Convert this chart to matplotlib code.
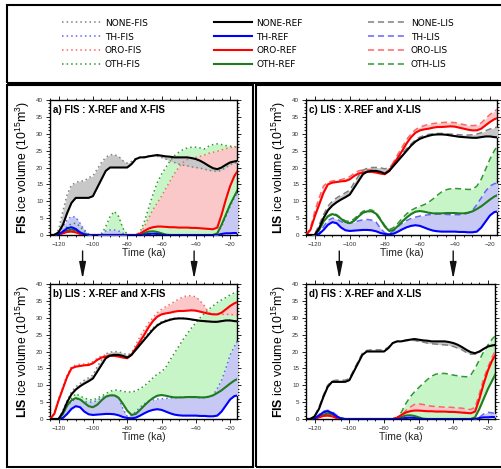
import numpy as np
import matplotlib
matplotlib.use('Agg')
import matplotlib.pyplot as plt
from matplotlib.patches import Rectangle
from matplotlib.ticker import MultipleLocator

plt.rcParams['font.family'] = 'Liberation Sans'
plt.rcParams['mathtext.fontset'] = 'custom'
plt.rcParams['mathtext.rm'] = 'Liberation Sans'
plt.rcParams['mathtext.bf'] = 'Liberation Sans:bold'

# time axis (ka), every 2.5 ka from -125 to -15
time = np.arange(-125, -14.9, 2.5)

# ---- REF runs : FIS volume (panels a, d)
none_ref_fis = [0, 0, 0.8, 3, 6.5, 9.5, 11, 11, 11, 11,
                11.5, 14, 16.5, 19, 20, 20, 20, 20, 20, 21,
                22.5, 23, 23, 23.3, 23.5, 23.7, 23.5, 23.3, 23.2, 23,
                23, 23, 23, 22.8, 22.5, 22, 21.3, 20.5, 19.8, 19.5,
                20, 20.8, 21.5, 21.8, 22]
th_ref_fis = [0, 0, 0.2, 1, 2, 2.3, 1.8, 0.8, 0.2, 0,
              0, 0, 0, 0, 0, 0, 0, 0, 0, 0,
              0, 0, 0.1, 0.3, 0.4, 0.3, 0.1, 0, 0, 0,
              0, 0, 0, 0, 0, 0, 0, 0, 0, 0,
              0.3, 0.5, 0.5, 0.6, 0.5]
oro_ref_fis = [0, 0, 0.1, 0.5, 0.9, 1, 0.8, 0.3, 0, 0,
               0, 0, 0, 0, 0, 0, 0, 0, 0, 0,
               0, 0.4, 1.2, 1.9, 2.3, 2.5, 2.5, 2.4, 2.3, 2.3,
               2.2, 2.2, 2.2, 2.1, 2.1, 2, 1.9, 1.8, 1.7, 2.2,
               6, 10.5, 14.5, 17.5, 19.5]
oth_ref_fis = [0, 0, 0.1, 0.6, 1.3, 1.6, 1.4, 0.7, 0.2, 0,
               0, 0, 0, 0, 0, 0, 0, 0, 0, 0,
               0, 0.2, 0.6, 1, 1.1, 0.9, 0.5, 0.1, 0, 0,
               0, 0, 0, 0, 0, 0, 0, 0, 0, 0.5,
               3, 6, 9, 11.5, 14]

# ---- REF runs : LIS volume (panels b, c)
none_ref_lis = [0, 0, 0, 2, 5, 7.3, 8.7, 9.7, 10.5, 11.2,
                12, 14, 16, 18, 18.8, 19, 19, 18.7, 18.2, 19,
                20.5, 22, 23.5, 25, 26.5, 27.7, 28.5, 29, 29.4, 29.7,
                29.8, 29.8, 29.7, 29.5, 29.3, 29.1, 29, 28.9, 28.8, 28.8,
                29, 29.2, 29.2, 29, 28.9]
th_ref_lis = [0, 0, 0, 0.3, 1.5, 3, 3.8, 3.5, 2.2, 1.4,
              1.2, 1.3, 1.4, 1.5, 1.5, 1.4, 1.1, 0.6, 0.3, 0.2,
              0.4, 1, 1.7, 2.3, 2.7, 2.9, 2.7, 2.2, 1.7, 1.3,
              1.1, 1, 1, 1, 1, 0.9, 0.9, 0.8, 0.8, 1,
              2.2, 4, 5.8, 6.8, 7]
oro_ref_lis = [0, 1.5, 5.5, 9, 12.5, 15, 15.5, 15.7, 15.9, 16,
               16.5, 17.5, 18.2, 18.5, 18.7, 18.7, 18.5, 18.2, 18, 19,
               21, 23, 25, 27.2, 29, 30.3, 31, 31.3, 31.5, 31.8,
               32, 32, 32.1, 32.2, 32.1, 31.8, 31.5, 31.2, 31, 31,
               31.5, 32.5, 33.5, 34.3, 34.8]
oth_ref_lis = [0, 0, 0, 1.5, 4, 5.5, 6.2, 5.8, 4.8, 3.8,
               3.5, 4.2, 5.5, 6.6, 7, 7, 6.3, 4.5, 2.5, 1.2,
               1.5, 2.7, 4, 5.2, 6.2, 6.9, 7.1, 6.9, 6.6, 6.4,
               6.4, 6.4, 6.5, 6.5, 6.5, 6.4, 6.4, 6.6, 7, 7.7,
               8.5, 9.5, 10.5, 11.4, 12]

# ---- X-FIS runs : FIS volume (panel a)
none_fis_fis = [0, 0, 1.5, 7, 12, 14.8, 15.5, 16, 16, 17,
                17.5, 19.5, 21.5, 23, 23.8, 23.8, 23.3, 22, 21.3, 21.8,
                22.7, 23, 23.2, 23.4, 23.5, 23.3, 23, 22.5, 22, 21.5,
                21, 20.7, 20.5, 20.2, 20, 19.8, 19.5, 19.2, 19, 18.8,
                19.2, 20, 20.8, 21.3, 21.5]
th_fis_fis = [0, 0, 0.5, 2.5, 4.5, 5.5, 5.3, 3.5, 1.5, 0.3,
              0, 0, 0.5, 1.2, 1.5, 1.5, 1.2, 0.5, 0, 0,
              0, 0, 0.2, 0.4, 0.5, 0.3, 0.1, 0, 0, 0,
              0, 0, 0, 0, 0, 0, 0, 0, 0, 0.5,
              2.5, 5.5, 8.5, 11, 13.5]
oro_fis_fis = [0, 0, 0.2, 0.6, 1, 1.1, 0.9, 0.4, 0.1, 0,
               0, 0, 0, 0, 0, 0, 0, 0, 0, 0,
               0, 0.5, 2.5, 5, 7.5, 9.5, 11.5, 13.8, 16, 18.2,
               20, 21.5, 22.3, 22.8, 23, 23.3, 23.7, 24.2, 24.5, 24.8,
               25.2, 25.6, 25.9, 26.1, 26.2]
oth_fis_fis = [0, 0, 0.3, 1.2, 2.5, 3.3, 3.5, 2.5, 1, 0.2,
               0, 0, 0.2, 2.5, 5.5, 7, 5.5, 2, 0.2, 0,
               0, 0.8, 4, 8, 12, 15.5, 18, 20, 22, 23.5,
               24.5, 25.3, 25.8, 26, 26, 25.8, 25.5, 26.3, 26.8, 27,
               26.8, 26.5, 26.3, 26.2, 26]

# ---- X-FIS runs : LIS volume (panel b)
none_fis_lis = [0, 0, 0, 2.5, 5.5, 8, 9.5, 10.5, 11.5, 12.2,
                13, 15.5, 17.5, 19.3, 19.8, 20, 19.9, 19.5, 19, 19.5,
                20.8, 22.3, 24, 25.5, 27, 28, 28.8, 29.3, 29.6, 29.8,
                29.9, 29.8, 29.6, 29.4, 29.2, 29, 28.9, 28.8, 28.8, 28.8,
                29, 29.1, 29.2, 29.1, 29]
th_fis_lis = [0, 0, 0, 1.5, 4, 5.2, 6, 5.8, 5.2, 5,
              5, 5.5, 6.3, 6.8, 7, 7, 6.5, 3, 0.8, 1,
              2.2, 3.5, 4.5, 5.2, 5.6, 5.9, 6, 6.1, 6.2, 6.3,
              6.4, 6.5, 6.5, 6.4, 6.4, 6.3, 6.3, 6.5, 7, 9,
              11.5, 15, 19, 21.5, 24]
oro_fis_lis = [0, 1.8, 6, 9.5, 13, 15.5, 16, 16.2, 16.3, 16.5,
               17, 18, 18.7, 19, 19.2, 19.2, 19, 18.6, 18.3, 19.5,
               22, 24.5, 26.5, 28.5, 30, 31.5, 32.5, 33.3, 34, 34.8,
               35.5, 36.2, 36.5, 36.5, 36.2, 35, 33.5, 31.5, 31.2, 31,
               31, 31, 31, 30.8, 30.5]
oth_fis_lis = [0, 0, 0, 1.5, 4, 6, 7.5, 6.8, 6.2, 5.8,
               5.6, 6.2, 6.8, 7.5, 8.2, 8.6, 8.5, 8.2, 8, 8,
               8.3, 9, 9.8, 11, 12.2, 13.3, 14, 15.3, 17.5, 19.5,
               21.5, 23.5, 25.3, 27, 28.5, 30, 31.3, 32.5, 33.5, 34.5,
               35.3, 36, 36.8, 37.4, 38]

# ---- X-LIS runs : LIS volume (panel c)
none_lis_lis = [0, 0, 0.3, 3, 6, 8.5, 10, 11, 11.8, 12.5,
                13.3, 15.5, 17.5, 19.2, 19.8, 20, 20, 19.9, 19.6, 20,
                21.2, 22.7, 24.2, 25.6, 27, 28.2, 29, 29.5, 29.8, 30,
                30.1, 30.1, 30, 29.9, 29.8, 29.7, 29.6, 29.6, 29.7, 29.9,
                30.3, 30.9, 31.4, 31.8, 32]
th_lis_lis = [0, 0, 0, 0.5, 2.5, 4.3, 5, 4.7, 4, 3.5,
              3.5, 3.8, 4.2, 4.5, 4.6, 4.4, 3.8, 2, 0.6, 0.4,
              1.2, 2.5, 3.5, 4.3, 4.9, 5.3, 5.6, 5.8, 6, 6.1,
              6.2, 6.2, 6.1, 6, 6, 6, 6.1, 6.5, 7.3, 9,
              11, 13, 14.5, 15.2, 15.5]
oro_lis_lis = [0, 2, 7, 11, 14.5, 15.7, 16, 16.2, 16.4, 16.8,
               17.3, 18.3, 19, 19.3, 19.4, 19.3, 19, 18.6, 18.3, 19.5,
               21.7, 24, 26.2, 28.3, 30, 31.2, 32, 32.4, 32.8, 33,
               33.2, 33.3, 33.4, 33.4, 33.3, 33, 32.7, 32.5, 32.4, 32.5,
               33.2, 34.5, 35.7, 36.7, 37.5]
oth_lis_lis = [0, 0, 0, 1.5, 4, 5.6, 6.4, 6, 5, 4.2,
               4, 4.8, 6, 7, 7.5, 7.4, 6.7, 4.8, 2.8, 1.6,
               2.2, 3.5, 5, 6.3, 7.3, 8, 8.5, 9, 9.7, 10.7,
               11.8, 12.8, 13.4, 13.7, 13.8, 13.7, 13.6, 13.5, 13.5, 14.5,
               16.5, 19.5, 22.5, 25, 27]

# ---- X-LIS runs : FIS volume (panel d)
none_lis_fis = [0, 0, 1, 3.5, 7, 10, 11.3, 11.5, 11.5, 11.5,
                12, 14.5, 17, 19.5, 20.3, 20.5, 20.5, 20.5, 20.5, 21.3,
                22.5, 23, 23, 23.2, 23.3, 23.3, 23, 22.8, 22.5, 22.3,
                22.2, 22, 22, 21.8, 21.5, 21, 20.5, 19.7, 19.2, 19.2,
                19.8, 20.8, 21.5, 21.8, 22]
th_lis_fis = [0, 0, 0.3, 1.3, 2.3, 2.6, 2.2, 1.2, 0.3, 0,
              0, 0, 0, 0, 0, 0, 0, 0, 0, 0,
              0, 0, 0.1, 0.2, 0.3, 0.2, 0.1, 0, 0, 0,
              0, 0, 0, 0, 0, 0, 0, 0, 0, 0.1,
              0.5, 1.5, 2, 1.8, 1.5]
oro_lis_fis = [0, 0, 0.2, 0.6, 1, 1.1, 0.9, 0.4, 0.1, 0,
               0, 0, 0, 0, 0, 0, 0, 0, 0, 0,
               0, 0.2, 1, 2.5, 3.5, 4.3, 4.5, 4.3, 4, 3.8,
               3.7, 3.6, 3.5, 3.5, 3.4, 3.3, 3.2, 3, 2.8, 3.5,
               7.5, 12, 15.5, 18.5, 21]
oth_lis_fis = [0, 0, 0.1, 0.7, 1.4, 1.7, 1.5, 0.8, 0.2, 0,
               0, 0, 0, 0, 0, 0, 0, 0, 0, 0,
               0, 0.3, 2, 4.5, 6.5, 8, 9.3, 10.5, 11.7, 12.7,
               13.3, 13.5, 13.5, 13.3, 13, 12.8, 12.6, 12.5, 13, 15,
               17.5, 20, 22, 23.8, 25]

scen = ['NONE', 'TH', 'ORO', 'OTH']
arrow_times = [-106, -41]

# colours
ref_col = {'NONE': 'black', 'TH': '#0000ff', 'ORO': '#ff0000', 'OTH': '#1e7b1e'}
var_col = {'NONE': '#808080', 'TH': '#6464ff', 'ORO': '#ff6464', 'OTH': '#2e9a2e'}
fill_col = {'NONE': '#c8c8c8', 'TH': '#c8c8f5', 'ORO': '#fac8c8', 'OTH': '#c8f5c8'}
fill_z = {'OTH': 1, 'ORO': 2, 'TH': 3, 'NONE': 4}
line_z = {'OTH': 6, 'ORO': 7, 'TH': 8, 'NONE': 9}

W, H = 502, 469
fig = plt.figure(figsize=(W / 100, H / 100), dpi=100)


def px(l, t, r, b):
    return [l / W, 1 - b / H, (r - l) / W, (b - t) / H]


panels = [
    (px(50, 100, 237, 235), [none_ref_fis, th_ref_fis, oro_ref_fis, oth_ref_fis],
     [none_fis_fis, th_fis_fis, oro_fis_fis, oth_fis_fis], 'FIS', 'FIS', 'a'),
    (px(50, 284, 237, 419), [none_ref_lis, th_ref_lis, oro_ref_lis, oth_ref_lis],
     [none_fis_lis, th_fis_lis, oro_fis_lis, oth_fis_lis], 'FIS', 'LIS', 'b'),
    (px(306, 100, 497, 235), [none_ref_lis, th_ref_lis, oro_ref_lis, oth_ref_lis],
     [none_lis_lis, th_lis_lis, oro_lis_lis, oth_lis_lis], 'LIS', 'LIS', 'c'),
    (px(306, 284, 495, 419), [none_ref_fis, th_ref_fis, oro_ref_fis, oth_ref_fis],
     [none_lis_fis, th_lis_fis, oro_lis_fis, oth_lis_fis], 'LIS', 'FIS', 'd'),
]

handles = {}
axes = []
for pos, refs, vars_, exp, sheet, letter in panels:
    ax = fig.add_axes(pos)
    axes.append(ax)
    ls = (0, (1, 2)) if exp == 'FIS' else (0, (4, 2.5))
    for s, r, v in zip(scen, refs, vars_):
        ax.fill_between(time, r, v, color=fill_col[s], lw=0, zorder=fill_z[s])
    for s, r, v in zip(scen, refs, vars_):
        lv, = ax.plot(time, v, color=var_col[s], ls=ls, lw=1.1, zorder=line_z[s])
        lr, = ax.plot(time, r, color=ref_col[s], lw=1.5, zorder=line_z[s] + 5)
        handles[s + '-' + exp] = lv
        handles[s + '-REF'] = lr
    ax.set_xlim(-125, -16)
    ax.set_ylim(0, 40)
    ax.xaxis.set_major_locator(MultipleLocator(20))
    ax.xaxis.set_minor_locator(MultipleLocator(5))
    ax.yaxis.set_major_locator(MultipleLocator(5))
    ax.yaxis.set_minor_locator(MultipleLocator(1))
    ax.tick_params(which='both', direction='out', top=True, right=True,
                   labelsize=4.5, labelcolor='#333333', pad=2, width=0.6)
    ax.tick_params(which='major', length=3)
    ax.tick_params(which='minor', length=1.5)
    for sp in ax.spines.values():
        sp.set_linewidth(1.0)
    ax.set_xlabel('Time (ka)', fontsize=7.5, labelpad=1, color='#222222')
    ax.set_ylabel(r'$\mathbf{%s}$ ice volume (10$^{15}$m$^3$)' % sheet,
                  fontsize=8.8, labelpad=3)
    ax.text(0.015, 0.965, '%s) %s : X-REF and X-%s' % (letter, sheet, exp),
            transform=ax.transAxes, fontsize=7, fontweight='bold', va='top',
            ha='left', zorder=20)

# arrows between upper and lower panels
for ax in (axes[0], axes[2]):
    for t in arrow_times:
        ax.annotate('', xy=(t, 1 - 279 / H), xytext=(t, 1 - 251 / H),
                    xycoords=('data', 'figure fraction'),
                    textcoords=('data', 'figure fraction'),
                    annotation_clip=False,
                    arrowprops=dict(arrowstyle='-|>,head_length=1.0,head_width=0.2',
                                    color='#111111', lw=1.0, shrinkA=0, shrinkB=0))

# legend
order = ['NONE-FIS', 'TH-FIS', 'ORO-FIS', 'OTH-FIS',
         'NONE-REF', 'TH-REF', 'ORO-REF', 'OTH-REF',
         'NONE-LIS', 'TH-LIS', 'ORO-LIS', 'OTH-LIS']
fig.legend([handles[k] for k in order], order, ncol=3, loc='center',
           bbox_to_anchor=(258 / W, 1 - 44 / H), frameon=False,
           prop={'family': 'DejaVu Sans', 'size': 6.5}, handlelength=4.3,
           columnspacing=7.3, labelspacing=0.55, handletextpad=0.4)

# frames
for l, t, r, b in [(7, 5, 520, 83), (7, 85, 253, 467), (256, 85, 520, 467)]:
    fig.add_artist(Rectangle((l / W, 1 - b / H), (r - l) / W, (b - t) / H,
                             transform=fig.transFigure, fill=False,
                             lw=1.5, ec='black'))

fig.savefig('out.png', dpi=100)
